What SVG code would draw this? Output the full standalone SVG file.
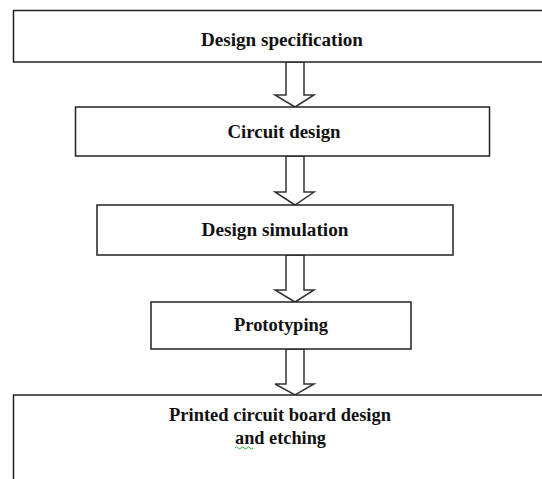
<svg xmlns="http://www.w3.org/2000/svg" width="542" height="479" viewBox="0 0 542 479">
<style>
.box{fill:#fff;stroke:#222;stroke-width:1.5}
.arr{fill:#fff;stroke:#333;stroke-width:1.5;stroke-linejoin:miter}
.lbl{font-family:"Liberation Serif","Times New Roman",serif;font-weight:bold;font-size:18.5px;fill:#111;text-anchor:middle}
</style>
<rect width="542" height="479" fill="#fff"/>
<g id="connectors">
<polygon class="arr" points="286,62 304,62 304,95 314,95 295,107 275,95 286,95"/>
<polygon class="arr" points="286,156 304,156 304,192 314,192 295,205 275,192 286,192"/>
<polygon class="arr" points="286,255 304,255 304,290 314,290 295,302 275,290 286,290"/>
<polygon class="arr" points="286,349 304,349 304,384 314,384 295,395 275,384 286,384"/>
</g>
<g id="node1">
<rect class="box" x="13.5" y="10.5" width="540" height="51.5"/>
<text class="lbl" x="282" y="45.5" textLength="162" lengthAdjust="spacingAndGlyphs">Design specification</text>
</g>
<g id="node2">
<rect class="box" x="75.5" y="107" width="414" height="49"/>
<text class="lbl" x="284" y="138" textLength="113" lengthAdjust="spacingAndGlyphs">Circuit design</text>
</g>
<g id="node3">
<rect class="box" x="97" y="205" width="356" height="50"/>
<text class="lbl" x="275" y="236" textLength="147" lengthAdjust="spacingAndGlyphs">Design simulation</text>
</g>
<g id="node4">
<rect class="box" x="151" y="302" width="260" height="47"/>
<text class="lbl" x="281" y="331" textLength="94" lengthAdjust="spacingAndGlyphs">Prototyping</text>
</g>
<g id="node5">
<rect class="box" x="13.5" y="395" width="540" height="100"/>
<text class="lbl" x="280" y="421" textLength="222" lengthAdjust="spacingAndGlyphs">Printed circuit board design</text>
<text class="lbl" x="280.5" y="444" textLength="91" lengthAdjust="spacingAndGlyphs">and etching</text>
<path d="M235,448 q1.5,-2 3,0 t3,0 t3,0 t3,0 t3,0 t3,0" fill="none" stroke="#3a3" stroke-width="1"/>
</g>
</svg>
